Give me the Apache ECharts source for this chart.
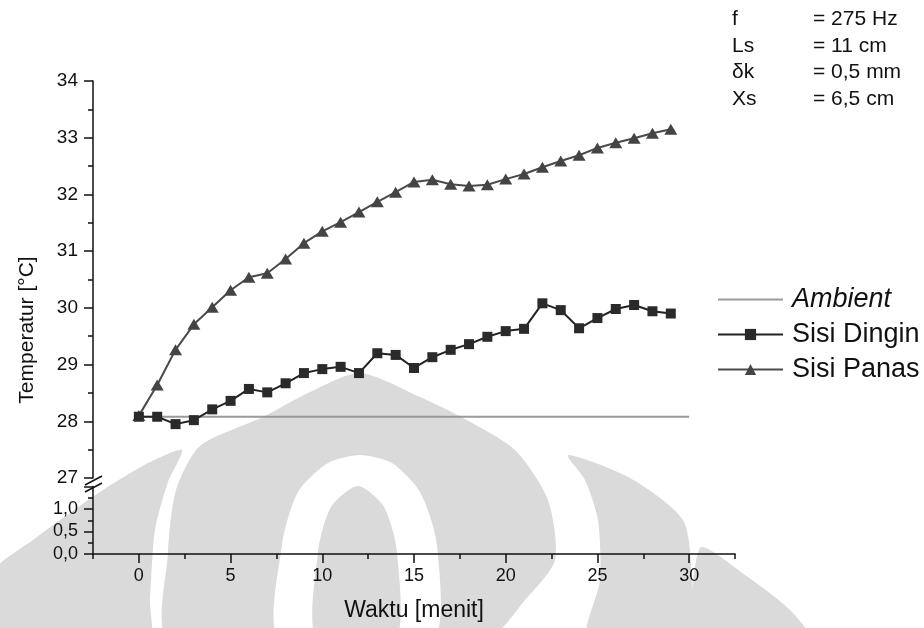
<!DOCTYPE html>
<html>
<head>
<meta charset="utf-8">
<script src="https://cdn.jsdelivr.net/npm/echarts@6/dist/echarts.min.js"></script>
<style>
html,body{margin:0;padding:0;background:#fff;}
#chart{width:924px;height:628px;}
</style>
</head>
<body>
<div id="chart"></div>
<script>
// ---- data ----
const minutes = [0,1,2,3,4,5,6,7,8,9,10,11,12,13,14,15,16,17,18,19,20,21,22,23,24,25,26,27,28,29];
const sisiDingin = [28.08,28.08,27.95,28.02,28.21,28.36,28.57,28.51,28.67,28.85,28.92,28.96,28.85,29.2,29.17,28.94,29.13,29.26,29.36,29.49,29.59,29.63,30.08,29.96,29.64,29.82,29.98,30.05,29.94,29.9];
const sisiPanas = [28.1,28.64,29.26,29.71,30.01,30.31,30.54,30.61,30.86,31.14,31.35,31.51,31.69,31.87,32.04,32.22,32.26,32.18,32.15,32.17,32.27,32.36,32.48,32.59,32.69,32.82,32.91,32.99,33.08,33.15];
const ambientX = [0, 30];
const ambientTemp = [28.08, 28.08];
const seriesNames = ['Ambient', 'Sisi Dingin', 'Sisi Panas'];
const xMajorTicks = [0,5,10,15,20,25,30];
const xMinorTicks = [-2.5,2.5,7.5,12.5,17.5,22.5,27.5,32.5];
const paramLabels = ['f', 'Ls', '\u03B4k', 'Xs'];
const paramValues = ['= 275 Hz', '= 11 cm', '= 0,5 mm', '= 6,5 cm'];
const xTitle = 'Waktu [menit]';
const yTitle = 'Temperatur [\u00B0C]';

const FONT = '"Liberation Sans", Arial, Helvetica, sans-serif';
const chart = echarts.init(document.getElementById('chart'), null, {renderer: 'canvas'});

const axisLineStyle = {color: '#111', width: 1.5};

const paramGraphics = [];
paramLabels.forEach((l, i) => {
  paramGraphics.push({type: 'text', left: 732, top: 9 + i * 26.5,
    style: {text: l, fontSize: 21, fontFamily: FONT, fill: '#111'}});
  paramGraphics.push({type: 'text', left: 813, top: 9 + i * 26.5,
    style: {text: paramValues[i], fontSize: 21, fontFamily: FONT, fill: '#111'}});
});

// faint background watermark (decoration only)
const WM = '#dadada';
function wm(points, fill) {
  return {type: 'polygon', z: -10, silent: true, shape: {points: points, smooth: 0.25},
    style: {fill: fill, stroke: null}};
}
const watermark = [
  wm([[-10,575],[33,540],[100,492],[150,462],[182,450],[168,482],[155,530],[150,600],[148,640],[-10,640]], WM),
  wm([[170,640],[168,553],[176,490],[200,446],[263,417],[310,392],[360,373],[420,397],[463,418],[515,450],[548,500],[555,560],[525,600],[485,640]], WM),
  wm([[280,640],[282,545],[298,492],[328,463],[360,455],[392,463],[420,492],[437,545],[432,640]], '#fff'),
  wm([[317,640],[318,552],[331,507],[358,486],[384,507],[397,552],[395,640]], WM),
  wm([[568,455],[630,478],[683,520],[692,580],[692,640],[588,640],[600,580],[598,520],[585,480]], WM),
  wm([[700,548],[745,575],[790,610],[810,640],[700,640]], WM)
];

const option = {
  backgroundColor: '#fff',
  animation: false,
  textStyle: {fontFamily: FONT},
  grid: [
    {left: 93, top: 81, width: 642, height: 397},
    {left: 93, top: 486.5, width: 642, height: 67.5}
  ],
  xAxis: [
    {gridIndex: 0, type: 'value', min: -2.5, max: 32.5, show: false},
    {gridIndex: 1, type: 'value', min: -2.5, max: 32.5, position: 'bottom',
      axisLine: {show: true, onZero: false, lineStyle: axisLineStyle},
      axisTick: {show: true, length: 9, lineStyle: {color: '#111', width: 1.5}, customValues: xMajorTicks},
      axisLabel: {show: true, fontSize: 18, color: '#111', margin: 13, customValues: xMajorTicks, fontFamily: FONT},
      splitLine: {show: false},
      name: xTitle, nameLocation: 'middle', nameGap: 45,
      nameTextStyle: {fontSize: 23, color: '#111', fontFamily: FONT}
    },
    {gridIndex: 1, type: 'value', min: -2.5, max: 32.5, position: 'bottom',
      axisLine: {show: false, onZero: false},
      axisTick: {show: true, length: 5, lineStyle: {color: '#111', width: 1.5}, customValues: xMinorTicks},
      axisLabel: {show: false},
      splitLine: {show: false}
    }
  ],
  yAxis: [
    {gridIndex: 0, type: 'value', min: 27, max: 34, interval: 1, position: 'left',
      axisLine: {show: true, onZero: false, lineStyle: axisLineStyle},
      axisTick: {show: true, length: 9, lineStyle: {color: '#111', width: 1.5}},
      minorTick: {show: true, splitNumber: 2, length: 5, lineStyle: {color: '#111', width: 1.5}},
      axisLabel: {fontSize: 19, color: '#111', margin: 15, fontFamily: FONT},
      splitLine: {show: false}
    },
    {gridIndex: 1, type: 'value', min: 0, max: 1.5, interval: 0.5, position: 'left',
      axisLine: {show: true, onZero: false, lineStyle: axisLineStyle},
      axisTick: {show: true, length: 9, lineStyle: {color: '#111', width: 1.5}},
      minorTick: {show: true, splitNumber: 2, length: 5, lineStyle: {color: '#111', width: 1.5}},
      axisLabel: {fontSize: 18, color: '#111', margin: 15, showMaxLabel: false, fontFamily: FONT,
        formatter: v => v.toFixed(1).replace('.', ',')},
      splitLine: {show: false}
    }
  ],
  legend: {
    orient: 'vertical', left: 712, top: 281,
    itemWidth: 65, itemHeight: 14, itemGap: 8,
    data: [
      {name: seriesNames[0], itemStyle: {opacity: 0}},
      {name: seriesNames[1]},
      {name: seriesNames[2]}
    ],
    formatter: n => n === 'Ambient' ? '{it|Ambient}' : n,
    textStyle: {fontSize: 27, color: '#111', fontFamily: FONT, padding: [0, 0, 0, 4],
      rich: {it: {fontStyle: 'italic', fontSize: 27, color: '#111', fontFamily: FONT}}}
  },
  series: [
    {name: 'Ambient', type: 'line', xAxisIndex: 0, yAxisIndex: 0,
      data: ambientX.map((x, i) => [x, ambientTemp[i]]),
      symbol: 'none', lineStyle: {color: '#9a9a9a', width: 2}, itemStyle: {color: '#9a9a9a'}, z: 1},
    {name: 'Sisi Dingin', type: 'line', xAxisIndex: 0, yAxisIndex: 0,
      data: minutes.map((m, i) => [m, sisiDingin[i]]),
      symbol: 'rect', symbolSize: 10, showAllSymbol: true,
      lineStyle: {color: '#222', width: 2}, itemStyle: {color: '#2a2a2a'}, z: 3},
    {name: 'Sisi Panas', type: 'line', xAxisIndex: 0, yAxisIndex: 0,
      data: minutes.map((m, i) => [m, sisiPanas[i]]),
      symbol: 'triangle', symbolSize: [13, 11], showAllSymbol: true,
      lineStyle: {color: '#4a4a4a', width: 2}, itemStyle: {color: '#444'}, z: 2}
  ],
  graphic: watermark.concat([
    {type: 'text', x: 27, y: 330, rotation: Math.PI / 2,
      style: {text: yTitle, fontSize: 21, fontFamily: FONT, fill: '#111', textAlign: 'center', textVerticalAlign: 'middle'}},
    {type: 'line', shape: {x1: 85, y1: 485, x2: 102, y2: 476}, style: {stroke: '#111', lineWidth: 1.5}},
    {type: 'line', shape: {x1: 85, y1: 492, x2: 102, y2: 483}, style: {stroke: '#111', lineWidth: 1.5}}
  ]).concat(paramGraphics)
};
chart.setOption(option);
</script>
</body>
</html>
